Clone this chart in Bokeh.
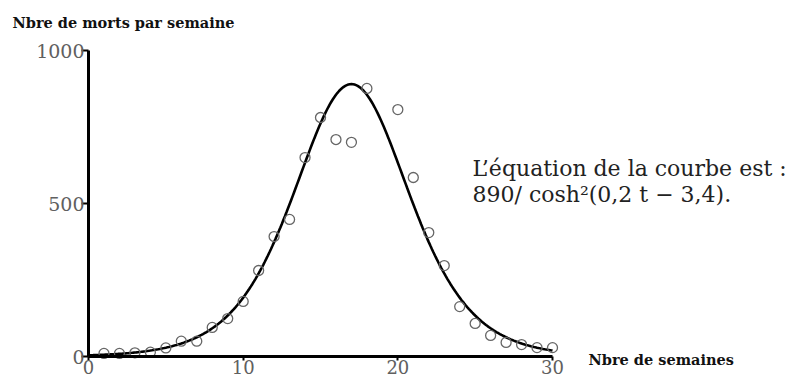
import numpy as np
from bokeh.plotting import figure
from bokeh.models import FixedTicker, Label, Range1d
from bokeh.embed import file_html
from bokeh.resources import INLINE

# observed deaths per week
weeks = [1, 2, 3, 4, 5, 6, 7, 8, 9, 10, 11, 12, 13, 14, 15, 16, 17, 18,
         20, 21, 22, 23, 24, 25, 26, 27, 28, 29, 30]
deaths = [10, 10, 12, 14, 28, 50, 50, 95, 124, 180, 281, 392, 448, 650, 781, 709, 700, 876,
          807, 585, 405, 297, 163, 108, 69, 46, 39, 29, 29]

# fitted curve parameters (given in the chart: 890/cosh^2(0,2 t - 3,4))
A, k, c = 890, 0.2, 3.4
t_curve = np.linspace(0, 30, 301)
y_curve = A / np.cosh(k * t_curve - c) ** 2

x_ticks = [0, 10, 20, 30]
y_ticks = [0, 500, 1000]

W, H = 812, 378
x0_px, x30_px = 88.0, 552.0
y0_px, y1000_px = 356.0, 50.0
sx = (x30_px - x0_px) / 30.0
sy = (y0_px - y1000_px) / 1000.0

p = figure(width=W, height=H, output_backend="svg", toolbar_location=None,
           x_range=Range1d(-x0_px / sx, (W - x0_px) / sx),
           y_range=Range1d(-(H - y0_px) / sy, y0_px / sy),
           min_border=0)
p.outline_line_color = None
p.grid.visible = False
p.background_fill_color = "white"
p.border_fill_color = "white"

p.line(t_curve, y_curve, line_color="black", line_width=2.6)
p.scatter(weeks, deaths, marker="circle", size=10, fill_color=None,
          line_color="#666666", line_width=1.3)

# y axis
ya = p.yaxis[0]
ya.fixed_location = 0
ya.bounds = (0, 1000)
ya.ticker = FixedTicker(ticks=y_ticks)
ya.axis_line_width = 3
ya.major_tick_out = 7
ya.major_tick_in = 0
ya.major_tick_line_width = 2
ya.minor_tick_line_color = None
ya.major_label_standoff = -3
ya.major_label_text_font = "DejaVu Serif"
ya.major_label_text_font_size = "19px"
ya.major_label_text_color = "#606060"

# x axis
xa = p.xaxis[0]
xa.fixed_location = 0
xa.bounds = (0, 30)
xa.ticker = FixedTicker(ticks=x_ticks)
xa.axis_line_width = 3
xa.major_tick_out = 4
xa.major_tick_in = 0
xa.major_tick_line_width = 2
xa.minor_tick_line_color = None
xa.major_label_standoff = -1
xa.major_label_text_font = "DejaVu Serif"
xa.major_label_text_font_size = "18px"
xa.major_label_text_color = "#606060"

p.add_layout(Label(x=-4.91, y=1091, text="Nbre de morts par semaine", text_baseline="middle",
                   text_font="DejaVu Serif", text_font_style="bold", text_font_size="14.5px",
                   text_color="#111111"))
p.add_layout(Label(x=32.33, y=-10, text="Nbre de semaines", text_baseline="middle",
                   text_font="DejaVu Serif", text_font_style="bold", text_font_size="14.5px",
                   text_color="#111111"))
p.add_layout(Label(x=24.83, y=616, text="L\u2019équation de la courbe est :", text_baseline="middle",
                   text_font="DejaVu Serif", text_font_size="22px", text_color="#222222"))
p.add_layout(Label(x=24.83, y=530, text="890/ cosh\u00b2(0,2 t \u2212 3,4).", text_baseline="middle",
                   text_font="DejaVu Serif", text_font_size="22px", text_color="#222222"))

open("out.html", "w").write(file_html(p, INLINE))
